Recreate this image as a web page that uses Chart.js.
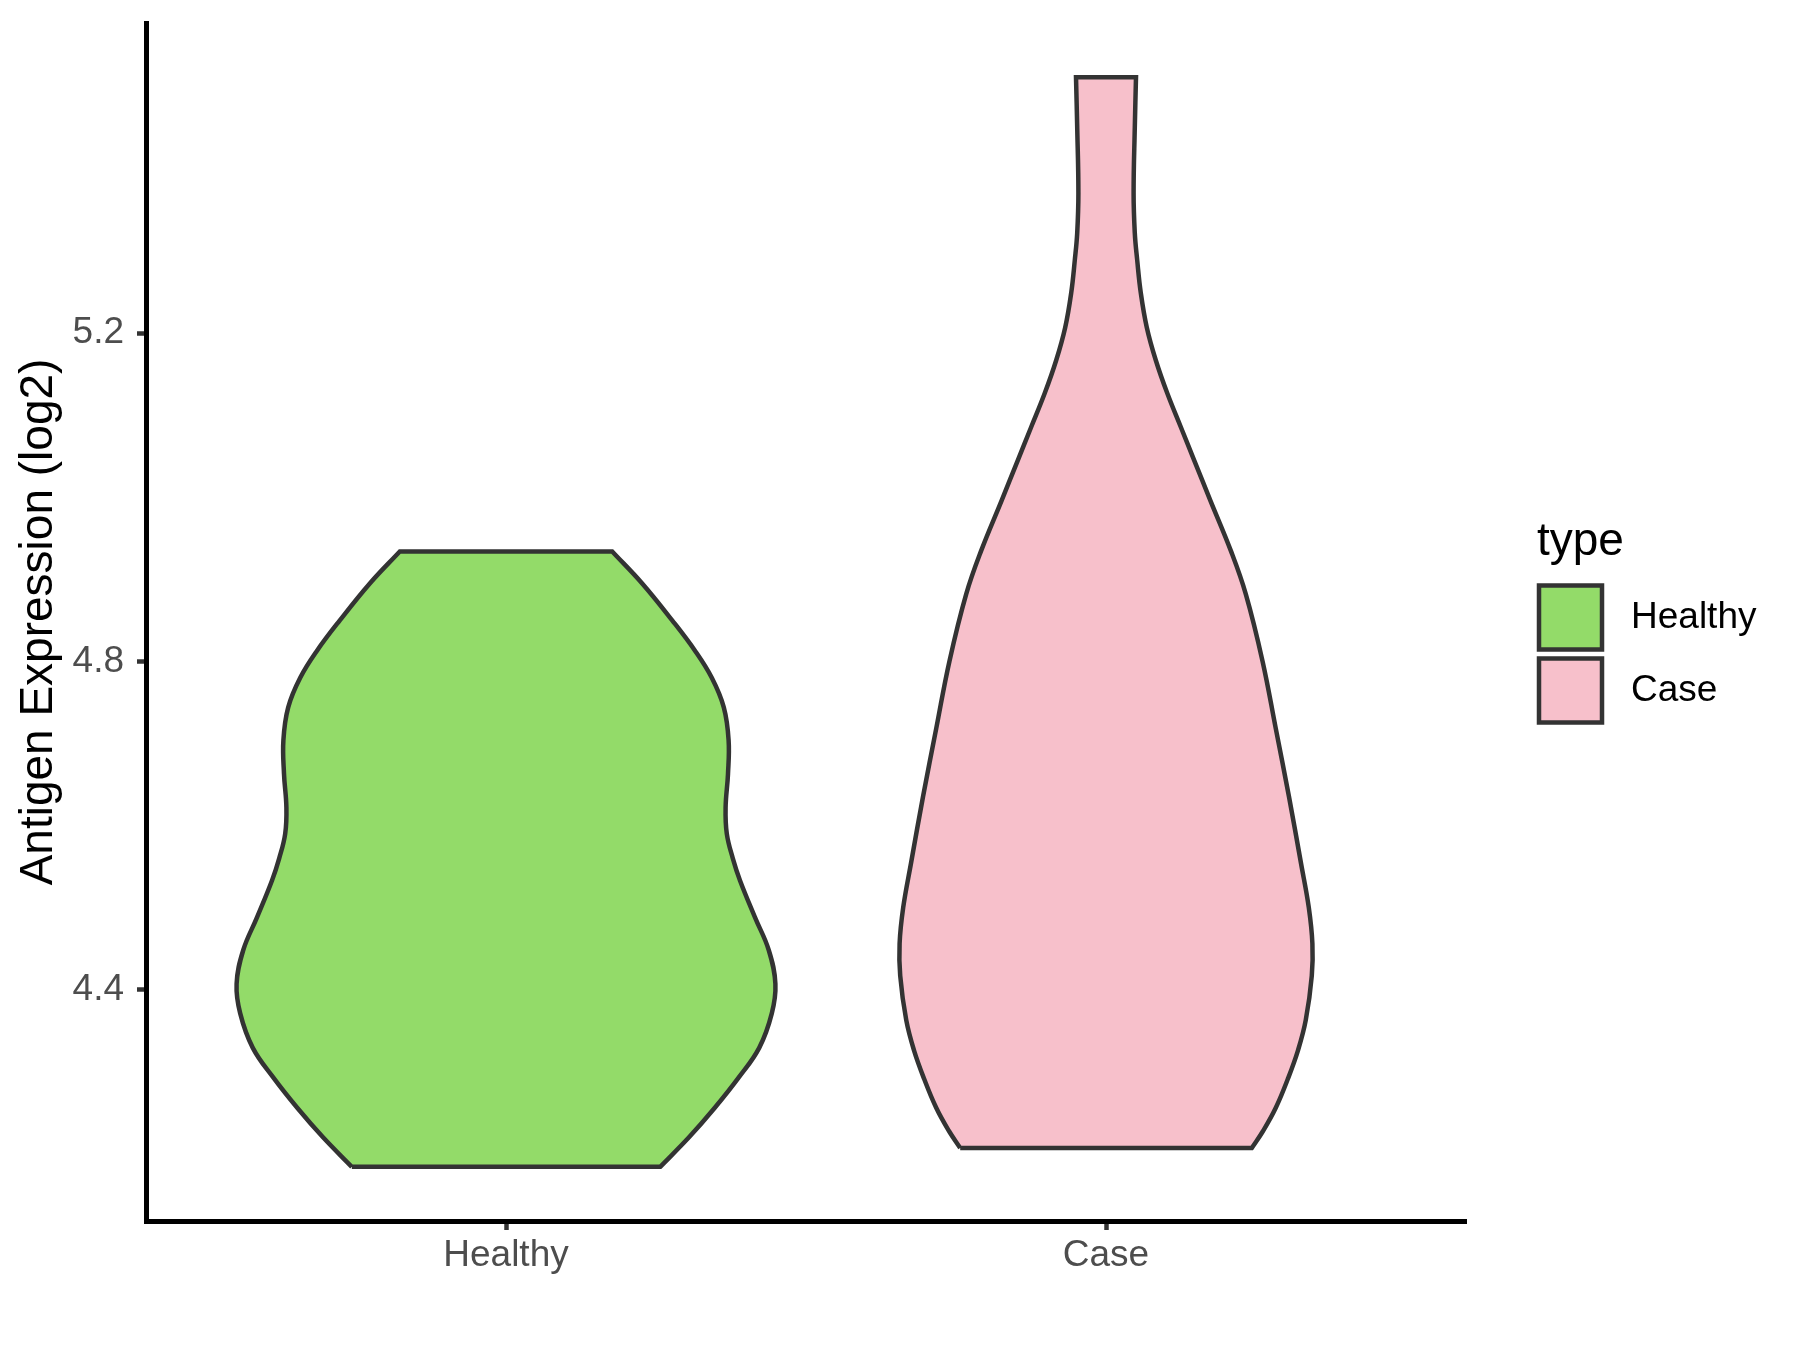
<!DOCTYPE html>
<html>
<head>
<meta charset="utf-8">
<title>Antigen Expression (log2)</title>
<script src="https://cdn.jsdelivr.net/npm/chart.js@4.4.1/dist/chart.umd.min.js"></script>
<style>
  html, body { margin: 0; padding: 0; background: #ffffff; }
  #wrap { width: 1800px; height: 1350px; }
</style>
</head>
<body>
<div id="wrap"><canvas id="myChart" width="1800" height="1350"></canvas></div>
<script>
const categories = ['Healthy', 'Case'];
const fillColors = ['#93DB69', '#F7C0CB'];
const lineColor = '#333333';

// violin outlines, bottom to top: expression value and half width (category units)
const healthyValues = [4.184, 4.220, 4.256, 4.293, 4.329, 4.371, 4.407, 4.448, 4.488, 4.533, 4.560,
                       4.590, 4.622, 4.663, 4.704, 4.744, 4.780, 4.813, 4.850, 4.895, 4.934];
const healthyHalfWidths = [0.257, 0.305, 0.348, 0.388, 0.422, 0.443, 0.449, 0.438, 0.415, 0.390, 0.378,
                           0.368, 0.366, 0.370, 0.371, 0.363, 0.343, 0.315, 0.277, 0.227, 0.177];

const caseValues = [4.207, 4.228, 4.256, 4.291, 4.326, 4.363, 4.417, 4.456, 4.500, 4.554, 4.635, 4.718, 4.800, 4.882,
                    4.935, 4.996, 5.045, 5.085, 5.127, 5.167, 5.207, 5.249, 5.289, 5.322, 5.371, 5.451, 5.512];
const caseHalfWidths = [0.243, 0.262, 0.283, 0.303, 0.320, 0.333, 0.343, 0.344, 0.338, 0.325, 0.305, 0.283, 0.261, 0.233,
                        0.208, 0.174, 0.147, 0.125, 0.102, 0.083, 0.068, 0.058, 0.052, 0.048, 0.046, 0.048, 0.050];

const xPositions = [1, 2];
const xLimits = [0.4, 2.6];
const yTicks = [4.4, 4.8, 5.2];
const yLimits = [4.118, 5.578];
const yTitle = 'Antigen Expression (log2)';
const legendTitle = 'type';

const fontFamily = "'Liberation Sans', Arial, Helvetica, sans-serif";
const tickColor = '#4d4d4d';

function violinOutline(center, values, halfWidths) {
    const left = [];
    const right = [];
    for (let i = 0; i < values.length; i++) {
        left.push({x: center - halfWidths[i], y: values[i]});
        right.push({x: center + halfWidths[i], y: values[i]});
    }
    right.reverse();
    // ends doubled so the spline keeps flat top/bottom edges straight
    const pts = [];
    [left, right].forEach(side => {
        pts.push(side[0]);
        side.forEach(p => pts.push(p));
        pts.push(side[side.length - 1]);
    });
    pts.push(left[0]);
    return pts;
}

const violinSets = [
    [healthyValues, healthyHalfWidths],
    [caseValues, caseHalfWidths]
];

const datasets = violinSets.map((v, i) => ({
    label: categories[i],
    data: violinOutline(xPositions[i], v[0], v[1]),
    showLine: true,
    fill: 'shape',
    tension: 0.4,
    backgroundColor: fillColors[i],
    borderColor: lineColor,
    borderWidth: 4.5,
    pointRadius: 0,
    pointHoverRadius: 0,
    pointHitRadius: 0
}));

// ggplot style legend on the right
const typeLegend = {
    id: 'typeLegend',
    afterDraw(chart) {
        const c = chart.ctx;
        const x0 = chart.chartArea.right + 73;
        c.save();
        c.fillStyle = '#000000';
        c.font = '46px ' + fontFamily;
        c.textAlign = 'left';
        c.textBaseline = 'alphabetic';
        c.fillText(legendTitle, x0 - 2, 555);
        categories.forEach((name, i) => {
            const top = 585.5 + i * 73;
            c.fillStyle = fillColors[i];
            c.fillRect(x0, top, 63, 64);
            c.lineWidth = 4.5;
            c.strokeStyle = lineColor;
            c.strokeRect(x0, top, 63, 64);
            c.fillStyle = '#000000';
            c.font = '37px ' + fontFamily;
            c.textBaseline = 'middle';
            c.fillText(name, x0 + 92, top + 32);
        });
        c.restore();
    }
};

const canvas = document.getElementById('myChart');
const ctx = canvas.getContext('2d');

const chart = new Chart(ctx, {
    type: 'scatter',
    data: { datasets: datasets },
    options: {
        responsive: false,
        animation: false,
        devicePixelRatio: 1,
        events: [],
        layout: { padding: { top: 23, right: 334, bottom: 0, left: 0 } },
        plugins: {
            legend: { display: false },
            tooltip: { enabled: false }
        },
        scales: {
            x: {
                type: 'linear',
                min: xLimits[0],
                max: xLimits[1],
                afterBuildTicks: s => { s.ticks = xPositions.map(v => ({ value: v })); },
                afterFit: s => { s.height = 129; s.paddingLeft = 0; s.paddingRight = 0; },
                grid: { drawOnChartArea: false, drawTicks: true, tickLength: 9, tickWidth: 4.5, tickColor: '#333333' },
                border: { display: true, color: '#000000', width: 5 },
                ticks: {
                    callback: v => categories[xPositions.indexOf(v)],
                    color: tickColor,
                    font: { family: fontFamily, size: 37 },
                    padding: 4,
                    autoSkip: false,
                    maxRotation: 0
                }
            },
            y: {
                type: 'linear',
                min: yLimits[0],
                max: yLimits[1],
                afterBuildTicks: s => { s.ticks = yTicks.map(v => ({ value: v })); },
                afterFit: s => { s.width = 146; s.paddingTop = 0; s.paddingBottom = 0; },
                grid: { drawOnChartArea: false, drawTicks: true, tickLength: 9, tickWidth: 4.5, tickColor: '#333333' },
                border: { display: true, color: '#000000', width: 5 },
                ticks: {
                    callback: v => v.toFixed(1),
                    color: tickColor,
                    font: { family: fontFamily, size: 37 },
                    padding: 13
                },
                title: {
                    display: true,
                    text: yTitle,
                    color: '#000000',
                    font: { family: fontFamily, size: 46 },
                    padding: { top: 12, bottom: 0 }
                }
            }
        }
    },
    plugins: [typeLegend]
});
</script>
</body>
</html>
